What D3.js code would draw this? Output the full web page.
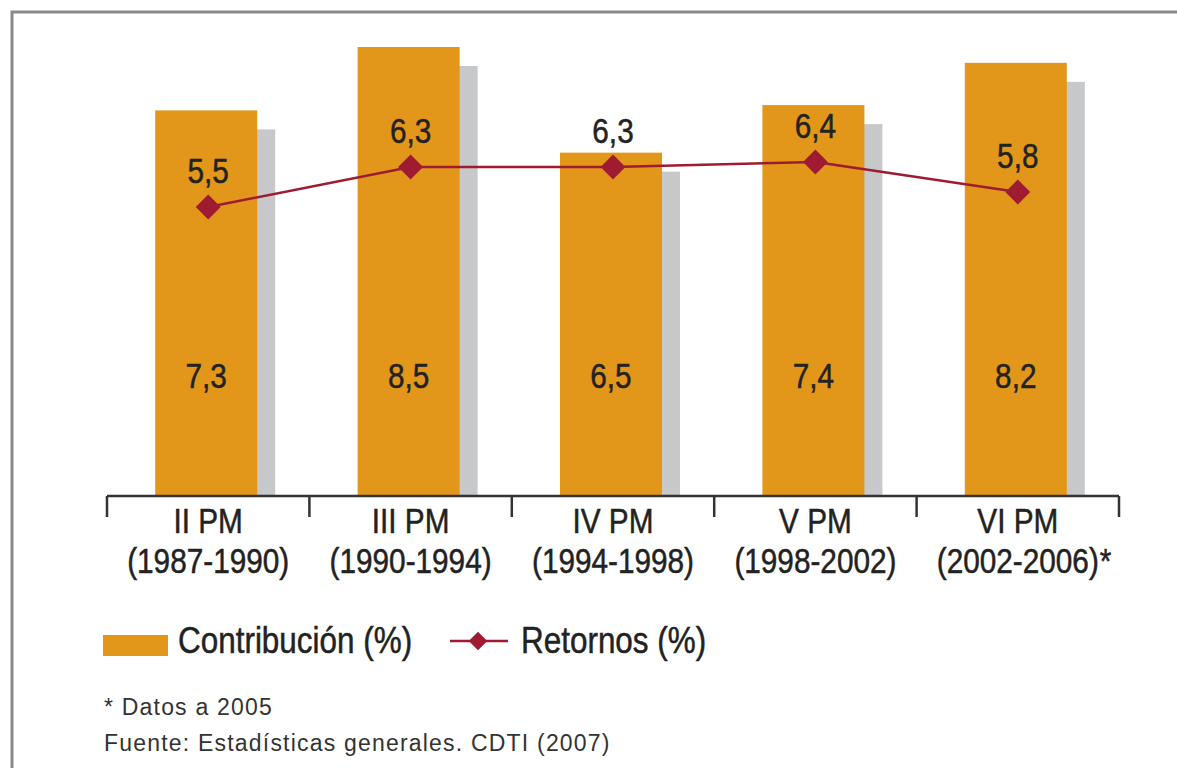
<!DOCTYPE html>
<html>
<head>
<meta charset="utf-8">
<script src="https://cdn.jsdelivr.net/npm/d3@7"></script>
<style>
    body { margin: 0; background: #fff; }
    svg { display: block; }
</style>
</head>
<body>
<div id="chart"></div>
<script>
// datos del grafico
var programas = ["II PM", "III PM", "IV PM", "V PM", "VI PM"];
var periodos = ["(1987-1990)", "(1990-1994)", "(1994-1998)", "(1998-2002)", "(2002-2006)"];
var llamadas = ["", "", "", "", "*"];
var contribucion = [7.3, 8.5, 6.5, 7.4, 8.2];
var retornos = [5.5, 6.3, 6.3, 6.4, 5.8];
var etiquetaContrib = ["7,3", "8,5", "6,5", "7,4", "8,2"];
var etiquetaRetornos = ["5,5", "6,3", "6,3", "6,4", "5,8"];

var width = 1177,
    height = 768;

var naranja = "#e2971a",
    sombra = "#c7c8ca",
    granate = "#9e1b32",
    texto = "#222222";

var fuente = "'Liberation Sans', Arial, sans-serif";
var estrecho = 0.85; // no hay fuente condensada, se estrecha el texto a mano

// estrecha un texto alrededor de su punto x
function condensar(sel) {
    sel.attr("transform", function () {
        var cx = +d3.select(this).attr("x");
        return "translate(" + cx + ",0) scale(" + estrecho + ",1) translate(" + (-cx) + ",0)";
    })
    .attr("stroke", texto)
    .attr("stroke-width", 0.5);
}

var svg = d3.select("#chart")
    .append("svg")
    .attr("width", width)
    .attr("height", height);

// marco gris
svg.append("path")
    .attr("d", "M12," + height + "V12H" + width)
    .attr("fill", "none")
    .attr("stroke", "#8a8a8a")
    .attr("stroke-width", 3);

var x = d3.scaleBand()
    .domain(programas)
    .range([107, 1119])
    .paddingInner(0.496)
    .paddingOuter(0.248);

var y = d3.scaleLinear()
    .domain([0, 8.5])
    .range([496, 47]);

// eje secundario para la linea de retornos
var y2 = d3.scaleLinear()
    .domain([0, 10])
    .range([482, -18]);

var sx = 18, sy = 19;

// sombras
svg.selectAll(".sombra")
    .data(contribucion)
    .enter()
    .append("rect")
    .attr("class", "sombra")
    .attr("x", function (d, i) { return x(programas[i]) + sx - 2; })
    .attr("y", function (d) { return y(d) + sy; })
    .attr("width", x.bandwidth())
    .attr("height", function (d) { return y(0) - y(d) - sy; })
    .attr("fill", sombra);

// barras
svg.selectAll(".barra")
    .data(contribucion)
    .enter()
    .append("rect")
    .attr("class", "barra")
    .attr("x", function (d, i) { return x(programas[i]) - 2; })
    .attr("y", function (d) { return y(d); })
    .attr("width", x.bandwidth())
    .attr("height", function (d) { return y(0) - y(d); })
    .attr("fill", naranja);

// etiquetas dentro de las barras
svg.selectAll(".etq-barra")
    .data(etiquetaContrib)
    .enter()
    .append("text")
    .attr("x", function (d, i) { return x(programas[i]) + x.bandwidth() / 2 - 2; })
    .attr("y", y(0) - 108)
    .attr("text-anchor", "middle")
    .style("font-family", fuente)
    .style("font-size", "35px")
    .attr("fill", texto)
    .text(function (d) { return d; })
    .call(condensar);

// eje x
var eje = svg.append("g");
eje.append("line")
    .attr("x1", x.range()[0])
    .attr("x2", x.range()[1])
    .attr("y1", y(0))
    .attr("y2", y(0))
    .attr("stroke", "#333")
    .attr("stroke-width", 2.5);

var bordes = d3.range(programas.length + 1).map(function (i) {
    return x.range()[0] + i * x.step();
});
eje.selectAll(".tick")
    .data(bordes)
    .enter()
    .append("line")
    .attr("x1", function (d) { return d; })
    .attr("x2", function (d) { return d; })
    .attr("y1", y(0))
    .attr("y2", y(0) + 21)
    .attr("stroke", "#333")
    .attr("stroke-width", 2.5);

var centro = function (d) { return x(d) + x.bandwidth() / 2; };

svg.selectAll(".cat1")
    .data(programas)
    .enter()
    .append("text")
    .attr("x", centro)
    .attr("y", 533)
    .attr("text-anchor", "middle")
    .style("font-family", fuente)
    .style("font-size", "35px")
    .attr("fill", texto)
    .text(function (d) { return d; })
    .call(condensar);

var cat2 = svg.selectAll(".cat2")
    .data(programas)
    .enter()
    .append("text")
    .attr("x", centro)
    .attr("y", 573)
    .attr("text-anchor", "middle")
    .style("font-family", fuente)
    .style("font-size", "35px")
    .attr("fill", texto)
    .text(function (d, i) { return periodos[i]; })
    .call(condensar);

// asterisco colgado tras el periodo
cat2.each(function (d, i) {
    if (!llamadas[i]) return;
    var w = this.getComputedTextLength() * estrecho;
    svg.append("text")
        .attr("x", centro(d) + w / 2 + 1)
        .attr("y", 573)
        .style("font-family", fuente)
        .style("font-size", "35px")
        .attr("fill", texto)
        .text(llamadas[i])
        .call(condensar);
});

// linea de retornos
var linea = d3.line()
    .x(function (d, i) { return centro(programas[i]); })
    .y(function (d) { return y2(d); });

svg.append("path")
    .datum(retornos)
    .attr("d", linea)
    .attr("fill", "none")
    .attr("stroke", granate)
    .attr("stroke-width", 2.5);

var diamante = d3.symbol().type(d3.symbolSquare).size(310);

svg.selectAll(".diamante")
    .data(retornos)
    .enter()
    .append("path")
    .attr("d", diamante)
    .attr("transform", function (d, i) {
        return "translate(" + centro(programas[i]) + "," + y2(d) + ") rotate(45)";
    })
    .attr("fill", granate);

svg.selectAll(".etq-linea")
    .data(retornos)
    .enter()
    .append("text")
    .attr("x", function (d, i) { return centro(programas[i]); })
    .attr("y", function (d) { return y2(d) - 24; })
    .attr("text-anchor", "middle")
    .style("font-family", fuente)
    .style("font-size", "35px")
    .attr("fill", texto)
    .text(function (d, i) { return etiquetaRetornos[i]; })
    .call(condensar);

// leyenda
var leyenda = svg.append("g");
leyenda.append("rect")
    .attr("x", 103)
    .attr("y", 635)
    .attr("width", 65)
    .attr("height", 21)
    .attr("fill", naranja);
leyenda.append("text")
    .attr("x", 178)
    .attr("y", 653)
    .style("font-family", fuente)
    .style("font-size", "37px")
    .attr("fill", texto)
    .text("Contribución (%)")
    .call(condensar);
leyenda.append("line")
    .attr("x1", 450)
    .attr("x2", 508)
    .attr("y1", 641)
    .attr("y2", 641)
    .attr("stroke", granate)
    .attr("stroke-width", 2.5);
leyenda.append("path")
    .attr("d", d3.symbol().type(d3.symbolSquare).size(170))
    .attr("transform", "translate(478,641) rotate(45)")
    .attr("fill", granate);
leyenda.append("text")
    .attr("x", 521)
    .attr("y", 653)
    .style("font-family", fuente)
    .style("font-size", "37px")
    .attr("fill", texto)
    .text("Retornos (%)")
    .call(condensar);

// notas
var notas = ["* Datos a 2005", "Fuente: Estadísticas generales. CDTI (2007)"];
svg.selectAll(".nota")
    .data(notas)
    .enter()
    .append("text")
    .attr("x", 104)
    .attr("y", function (d, i) { return 715 + i * 36; })
    .style("font-family", fuente)
    .style("font-size", "23px")
    .style("letter-spacing", "1.2px")
    .attr("fill", "#333")
    .text(function (d) { return d; });
</script>
</body>
</html>
